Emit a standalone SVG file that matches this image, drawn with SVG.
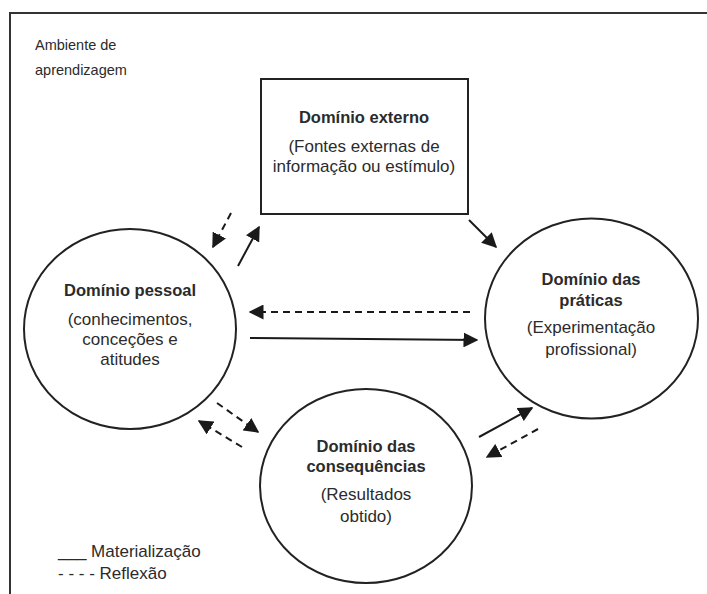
<svg xmlns="http://www.w3.org/2000/svg" width="707" height="594" viewBox="0 0 707 594">
<defs>
<style>
.t{font-family:"Liberation Sans",Arial,sans-serif;font-size:17px;fill:#2b2b2b;text-anchor:middle}
.b{font-weight:bold;font-size:16.5px}
.l{text-anchor:start}
.s{font-size:14.5px}
.g{font-size:17px}
.shape{fill:#fff;stroke:#222;stroke-width:2}
.solid{stroke:#1a1a1a;stroke-width:2;fill:none;marker-end:url(#ah)}
.dash{stroke:#1a1a1a;stroke-width:2;fill:none;stroke-dasharray:7 5;marker-end:url(#ah)}
</style>
<marker id="ah" viewBox="0 0 10 10" refX="9" refY="5" markerWidth="7.5" markerHeight="7.5" markerUnits="strokeWidth" orient="auto">
<path d="M0,0 L10,5 L0,10 z" fill="#1a1a1a"/>
</marker>
</defs>
<rect width="707" height="594" fill="#fff"/>
<path d="M10,594 V13 H707" fill="none" stroke="#333" stroke-width="2"/>
<g id="ambiente">
<text class="t l s" x="35" y="50">Ambiente de</text>
<text class="t l s" x="35" y="75">aprendizagem</text>
</g>
<g id="dominio-externo">
<rect class="shape" x="261" y="79" width="207" height="135"/>
<text class="t b" x="364" y="123">Domínio externo</text>
<text class="t" x="364" y="152">(Fontes externas de</text>
<text class="t" x="364" y="172">informação ou estímulo)</text>
</g>
<g id="dominio-pessoal">
<ellipse class="shape" cx="130" cy="329" rx="106" ry="100"/>
<text class="t b" x="130" y="296">Domínio pessoal</text>
<text class="t" x="130" y="325">(conhecimentos,</text>
<text class="t" x="130" y="345">conceções e</text>
<text class="t" x="130" y="365">atitudes</text>
</g>
<g id="dominio-praticas">
<ellipse class="shape" cx="591.5" cy="318.5" rx="106.5" ry="100"/>
<text class="t b" x="591" y="285">Domínio das</text>
<text class="t b" x="591" y="306">práticas</text>
<text class="t" x="591" y="333">(Experimentação</text>
<text class="t" x="591" y="355">profissional)</text>
</g>
<g id="dominio-consequencias">
<ellipse class="shape" cx="366" cy="486" rx="106" ry="97"/>
<text class="t b" x="366" y="452">Domínio das</text>
<text class="t b" x="366" y="472">consequências</text>
<text class="t" x="366" y="500">(Resultados</text>
<text class="t" x="366" y="522">obtido)</text>
</g>
<g id="connectors">
<line class="dash" x1="231" y1="213" x2="213" y2="247"/>
<line class="solid" x1="238" y1="266" x2="259" y2="227"/>
<line class="solid" x1="469" y1="220" x2="496" y2="247"/>
<line class="dash" x1="470" y1="312" x2="250" y2="312"/>
<line class="solid" x1="250" y1="338" x2="477" y2="340"/>
<line class="dash" x1="217" y1="403" x2="258" y2="432"/>
<line class="dash" x1="242" y1="447" x2="199" y2="421"/>
<line class="solid" x1="479" y1="437" x2="532" y2="408"/>
<line class="dash" x1="538" y1="429" x2="487" y2="457"/>
</g>
<g id="legenda">
<text class="t l g" x="58" y="557">___ Materialização</text>
<text class="t l g" x="58" y="579">- - - - Reflexão</text>
</g>
</svg>
